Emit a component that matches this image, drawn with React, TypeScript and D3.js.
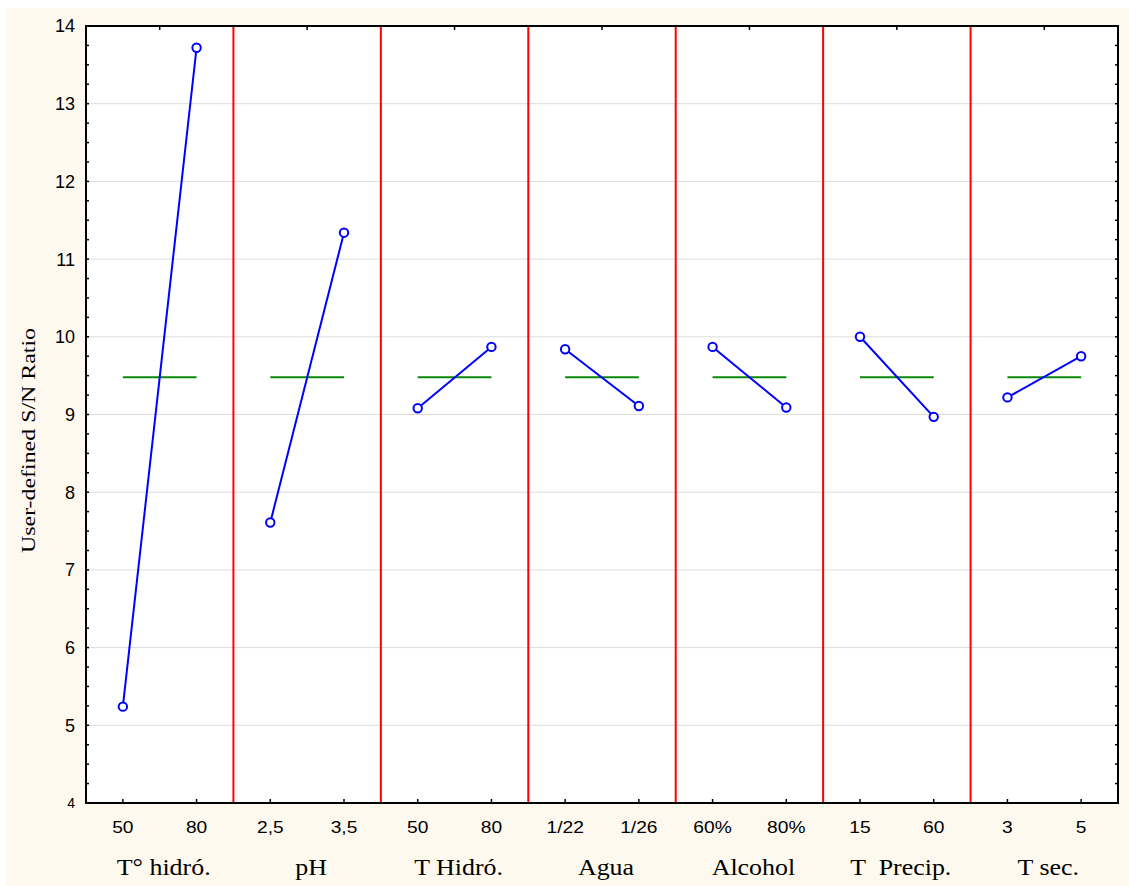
import React from "react";
import * as d3 from "d3";

const factors = ["T° hidró.", "pH", "T Hidró.", "Agua", "Alcohol", "T  Precip.", "T sec."];
const levelLabels = [
  ["50", "80"],
  ["2,5", "3,5"],
  ["50", "80"],
  ["1/22", "1/26"],
  ["60%", "80%"],
  ["15", "60"],
  ["3", "5"],
];
const snLow = [5.24, 7.61, 9.08, 9.84, 9.87, 10.0, 9.22];
const snHigh = [13.72, 11.34, 9.87, 9.11, 9.09, 8.97, 9.75];
const grandMean = 9.48;
const yTicks = [4, 5, 6, 7, 8, 9, 10, 11, 12, 13, 14];
const yLabel = "User-defined S/N Ratio";

const W = 1129;
const H = 886;
const M = { left: 86, right: 1118, top: 26, bottom: 803 };

export default function App() {
  const y = d3.scaleLinear().domain([4, 14]).range([M.bottom, M.top]);
  const xg = d3.scaleBand<string>().domain(factors).range([M.left, M.right]).padding(0);
  const bw = xg.bandwidth();
  const xl = d3.scaleBand<number>().domain([0, 1]).range([0, bw]).padding(0);
  const lx = (g: number, l: number) => (xg(factors[g]) as number) + (xl(l) as number) + xl.bandwidth() / 2;

  const minor = d3.range(4, 14.001, 0.25);
  const line = d3.line<[number, number]>().x((d) => d[0]).y((d) => d[1]);

  return (
    <svg width={W} height={H} style={{ position: "absolute", left: 0, top: 0, display: "block" }}>
      <rect x={0} y={0} width={W} height={H} fill="#ffffff" />
      <rect x={6} y={8} width={W - 6} height={H - 8} fill="#fdf9ee" />
      <rect x={M.left} y={M.top} width={M.right - M.left} height={M.bottom - M.top} fill="#ffffff" />

      {yTicks.slice(1, -1).map((t) => (
        <line key={"g" + t} x1={M.left} x2={M.right} y1={y(t)} y2={y(t)} stroke="#dcdcdc" strokeWidth={1} />
      ))}

      {factors.slice(1).map((f) => (
        <line key={"s" + f} x1={xg(f)} x2={xg(f)} y1={M.top} y2={M.bottom} stroke="#ff0000" strokeWidth={2} />
      ))}

      {factors.map((f, i) => (
        <line key={"m" + i} x1={lx(i, 0)} x2={lx(i, 1)} y1={y(grandMean)} y2={y(grandMean)} stroke="#0a8a0a" strokeWidth={2} />
      ))}

      {factors.map((f, i) => {
        const pts: [number, number][] = [
          [lx(i, 0), y(snLow[i])],
          [lx(i, 1), y(snHigh[i])],
        ];
        return (
          <g key={"e" + i}>
            <path d={line(pts) || ""} stroke="#0000ff" strokeWidth={2} fill="none" />
            {pts.map((p, j) => (
              <circle key={j} cx={p[0]} cy={p[1]} r={4.2} fill="#ffffff" stroke="#0000ff" strokeWidth={2} />
            ))}
          </g>
        );
      })}

      <rect x={M.left} y={M.top} width={M.right - M.left} height={M.bottom - M.top} fill="none" stroke="#000" strokeWidth={2} />

      {minor.map((t, i) => (
        <g key={"mt" + i}>
          <line x1={M.left} x2={M.left + 3} y1={y(t)} y2={y(t)} stroke="#000" strokeWidth={1.5} />
          <line x1={M.right} x2={M.right - 3} y1={y(t)} y2={y(t)} stroke="#000" strokeWidth={1.5} />
        </g>
      ))}

      {factors.map((f, i) => (
        <line key={"tt" + i} x1={(xg(f) as number) + bw / 2} x2={(xg(f) as number) + bw / 2} y1={M.top} y2={M.top + 4} stroke="#000" strokeWidth={1.5} />
      ))}

      {factors.map((f, i) =>
        [0, 1].map((l) => (
          <line key={"bt" + i + l} x1={lx(i, l)} x2={lx(i, l)} y1={M.bottom} y2={M.bottom - 4} stroke="#000" strokeWidth={1.5} />
        ))
      )}

      {yTicks.map((t) => (
        <text
          key={"yl" + t}
          x={75}
          y={y(t)}
          dy="0.36em"
          textAnchor="end"
          fontFamily="'Liberation Sans', Arial, sans-serif"
          fontSize={t === 4 ? 14 : 18}
          fill="#000"
        >
          {t}
        </text>
      ))}

      {factors.map((f, i) =>
        levelLabels[i].map((lab, l) => (
          <text
            key={"xl" + i + l}
            transform={`translate(${lx(i, l)},${833}) scale(1.2,1)`}
            textAnchor="middle"
            fontFamily="'Liberation Sans', Arial, sans-serif"
            fontSize={16}
            fill="#000"
          >
            {lab}
          </text>
        ))
      )}

      {factors.map((f, i) => (
        <text
          key={"fl" + i}
          transform={`translate(${(xg(f) as number) + bw / 2 + 4},${875}) scale(1.08,1)`}
          textAnchor="middle"
          fontFamily="'Liberation Serif', 'Times New Roman', serif"
          fontSize={24}
          fill="#000"
          style={{ whiteSpace: "pre" }}
        >
          {f}
        </text>
      ))}

      <text
        transform={`translate(35,${(M.top + M.bottom) / 2 + 26}) rotate(-90)`}
        textAnchor="middle"
        fontFamily="'Liberation Serif', 'Times New Roman', serif"
        fontSize={18}
        textLength={225}
        lengthAdjust="spacingAndGlyphs"
        fill="#000"
      >
        {yLabel}
      </text>
    </svg>
  );
}
